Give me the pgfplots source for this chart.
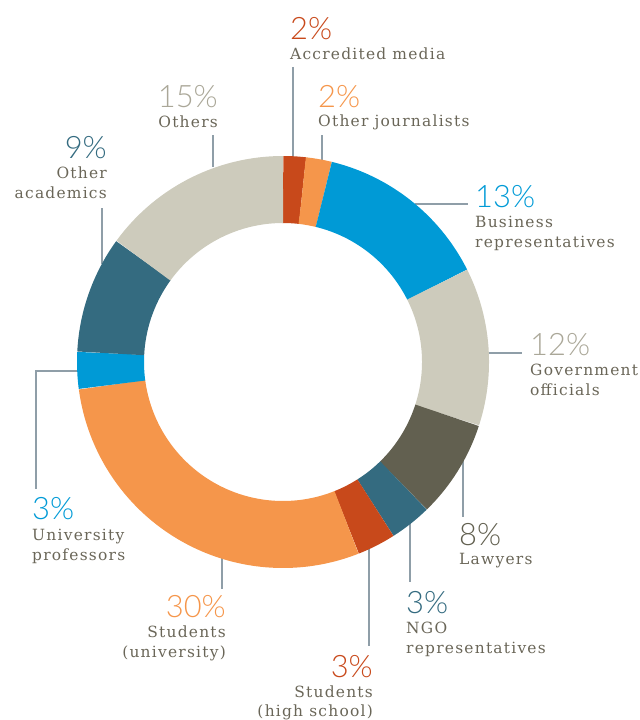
\documentclass[border=0pt]{standalone}
\usepackage{pgfplots}
\pgfplotsset{compat=1.18}
\usepackage{fontspec}
\setmainfont{DejaVu Serif}[LetterSpace=8]
\newfontfamily\pctfont{Lato Light}
\definecolor{cRed}{HTML}{C8491B}
\definecolor{cOrange}{HTML}{F5964B}
\definecolor{cBlue}{HTML}{009AD6}
\definecolor{cBeige}{HTML}{CDCBBC}
\definecolor{cDark}{HTML}{626050}
\definecolor{cTeal}{HTML}{346B80}
\definecolor{cText}{HTML}{6A6658}
\definecolor{cGrayPct}{HTML}{AAA798}
\definecolor{cLine}{HTML}{8F9EA8}
% segment: start (cumulative %), share (%), colour
\newcommand{\seg}[3]{\addplot[draw=#3, line width=67bp, domain={90-3.6*#1}:{90-3.6*(#1+#2)}, samples=80] ({283+172.5*cos(x)},{362-172.5*sin(x)});}
\newcommand{\pct}[4]{\node[anchor=base #1, text=#2, inner sep=0pt, font=\pctfont\fontsize{31}{31}\selectfont] at (axis cs:#3) {#4};}
\newcommand{\lab}[3]{\node[anchor=base #1, text=cText, inner sep=0pt, font=\fontsize{15.5}{18}\selectfont] at (axis cs:#2) {#3};}
\begin{document}
\begin{tikzpicture}
\begin{axis}[width=639bp, height=720bp, scale only axis, hide axis,
  xmin=0, xmax=639, ymin=0, ymax=720, y dir=reverse, clip=false]
% leader lines
\begin{scope}[draw=cLine, line width=1.3bp]
\draw (axis cs:293,67) -- (axis cs:293,157);
\draw (axis cs:322,135) -- (axis cs:322,160);
\draw (axis cs:415,204) -- (axis cs:468,204);
\draw (axis cs:486,353) -- (axis cs:522,353);
\draw (axis cs:463,458) -- (axis cs:463,517);
\draw (axis cs:410,520) -- (axis cs:410,582);
\draw (axis cs:369,545) -- (axis cs:369,646);
\draw (axis cs:222,555) -- (axis cs:222,589);
\draw (axis cs:79,371) -- (axis cs:36,371) -- (axis cs:36,489);
\draw (axis cs:102,208) -- (axis cs:102,264);
\draw (axis cs:213,135) -- (axis cs:213,167);
\end{scope}
% donut segments (start %, share %, colour)
\seg{0}{1.8}{cRed}
\seg{1.8}{2.0}{cOrange}
\seg{3.8}{13.8}{cBlue}
\seg{17.6}{12.4}{cBeige}
\seg{30}{7.7}{cDark}
\seg{37.7}{3.3}{cTeal}
\seg{41}{3.0}{cRed}
\seg{44}{28.9}{cOrange}
\seg{72.9}{2.9}{cBlue}
\seg{75.8}{9.2}{cTeal}
\seg{85}{15.0}{cBeige}
% labels
\pct{west}{cRed}{290,40}{2\%}
\lab{west}{290,60}{Accredited media}
\pct{west}{cOrange}{318,108}{2\%}
\lab{west}{318,127}{Other journalists}
\pct{west}{cBlue}{475,207}{13\%}
\lab{west}{475,227}{Business}
\lab{west}{475,247}{representatives}
\pct{west}{cGrayPct}{530,355}{12\%}
\lab{west}{530,375}{Government}
\lab{west}{530,395}{officials}
\pct{west}{cDark}{459,545}{8\%}
\lab{west}{459,564}{Lawyers}
\pct{west}{cTeal}{406,613}{3\%}
\lab{west}{406,633}{NGO}
\lab{west}{406,653}{representatives}
\pct{east}{cRed}{373,677}{3\%}
\lab{east}{373,697}{Students}
\lab{east}{373,716}{(high school)}
\pct{east}{cOrange}{226,617}{30\%}
\lab{east}{226,637}{Students}
\lab{east}{226,657}{(university)}
\pct{west}{cBlue}{32,519}{3\%}
\lab{west}{32,540}{University}
\lab{west}{32,560}{professors}
\pct{east}{cTeal}{107,158}{9\%}
\lab{east}{107,178}{Other}
\lab{east}{107,198}{academics}
\pct{east}{cGrayPct}{218,108}{15\%}
\lab{east}{218,128}{Others}
\end{axis}
\pgfresetboundingbox
\path (current axis.south west) rectangle (current axis.north east);
\end{tikzpicture}
\end{document}
